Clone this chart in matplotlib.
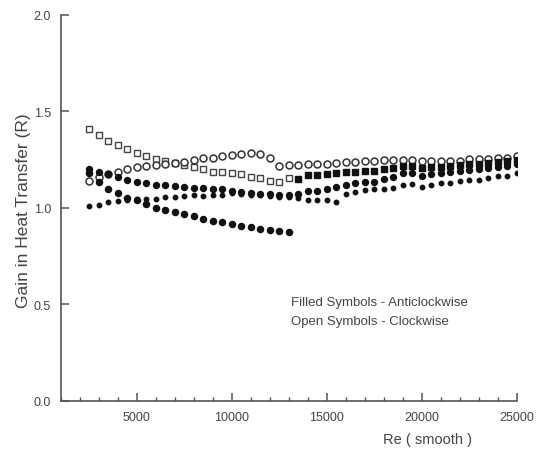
import matplotlib
matplotlib.use('Agg')
import matplotlib.pyplot as plt
from matplotlib.ticker import MultipleLocator, FormatStrFormatter
import numpy as np

# Re values (smooth), every 500
re_full = np.arange(2500, 25001, 500)
re_low = np.arange(2500, 13001, 500)
re_high = np.arange(13500, 25001, 500)

# open squares (clockwise)
open_sq = [1.406, 1.375, 1.347, 1.326, 1.306, 1.285, 1.267, 1.253, 1.245, 1.232, 1.222,
           1.211, 1.199, 1.188, 1.185, 1.181, 1.176, 1.159, 1.154, 1.141, 1.135, 1.154]
# open circles (clockwise)
open_circ = [1.141, 1.160, 1.175, 1.188, 1.199, 1.210, 1.219, 1.223, 1.228, 1.233,
             1.237, 1.250, 1.259, 1.259, 1.268, 1.276, 1.280, 1.285, 1.280, 1.259,
             1.219, 1.223, 1.223, 1.228, 1.228, 1.228, 1.233, 1.237, 1.237, 1.240,
             1.240, 1.249, 1.249, 1.249, 1.249, 1.240, 1.245, 1.245, 1.240, 1.245,
             1.254, 1.254, 1.254, 1.257, 1.257, 1.268]
# filled squares (anticlockwise)
filled_sq = [1.150, 1.171, 1.171, 1.176, 1.181, 1.185, 1.188, 1.193, 1.193, 1.202, 1.205, 1.216,
             1.216, 1.205, 1.211, 1.211, 1.216, 1.223, 1.226, 1.228, 1.233, 1.237, 1.240, 1.250]
# filled circles (anticlockwise)
filled_circ = [1.202, 1.185, 1.176, 1.159, 1.146, 1.133, 1.128, 1.119, 1.116, 1.112,
               1.107, 1.102, 1.100, 1.097, 1.095, 1.085, 1.081, 1.078, 1.073, 1.069,
               1.066, 1.064, 1.070, 1.085, 1.085, 1.098, 1.107, 1.119, 1.128, 1.133,
               1.135, 1.150, 1.159, 1.181, 1.181, 1.167, 1.176, 1.181, 1.185, 1.193,
               1.197, 1.202, 1.206, 1.211, 1.216, 1.228]
# small filled dots (anticlockwise)
filled_dot = [1.009, 1.016, 1.029, 1.033, 1.040, 1.045, 1.047, 1.047, 1.055, 1.058,
              1.060, 1.064, 1.062, 1.064, 1.066, 1.075, 1.072, 1.068, 1.064, 1.060,
              1.058, 1.055, 1.052, 1.038, 1.038, 1.038, 1.029, 1.073, 1.081, 1.090,
              1.095, 1.098, 1.104, 1.116, 1.124, 1.107, 1.119, 1.128, 1.128, 1.138,
              1.146, 1.146, 1.155, 1.167, 1.167, 1.181]
# big filled circles, falling (anticlockwise)
filled_big = [1.180, 1.133, 1.095, 1.076, 1.050, 1.040, 1.018, 0.998, 0.990, 0.977, 0.969,
              0.955, 0.943, 0.934, 0.926, 0.917, 0.908, 0.900, 0.891, 0.886, 0.882, 0.874]

grey = '#555555'
txt = '#444444'
font = 'Liberation Sans'

fig = plt.figure(figsize=(5.39, 4.64), dpi=100)
ax = fig.add_axes([0.113, 0.134, 0.846, 0.832])

ax.plot(re_low, open_sq, 's', ms=4.0, mfc='white', mec='#444444', mew=1.0, ls='none')
ax.plot(re_full, open_circ, 'o', ms=5.0, mfc='white', mec='#333333', mew=1.1, ls='none')
ax.plot(re_high, filled_sq, 's', ms=4.4, color='#111111', ls='none')
ax.plot(re_full, filled_circ, 'o', ms=4.3, color='#111111', ls='none')
ax.plot(re_full, filled_dot, 'o', ms=3.2, color='#111111', ls='none')
ax.plot(re_low, filled_big, 'o', ms=4.4, color='#111111', ls='none')

ax.set_xlim(1000, 25000)
ax.set_ylim(0, 2.0)
ax.xaxis.set_minor_locator(MultipleLocator(1000))
ax.yaxis.set_major_locator(MultipleLocator(0.5))
ax.yaxis.set_major_formatter(FormatStrFormatter('%.1f'))
ax.set_xticks([5000, 10000, 15000, 20000, 25000])

for s in ['top', 'right']:
    ax.spines[s].set_visible(False)
for s in ['left', 'bottom']:
    ax.spines[s].set_color(grey)
    ax.spines[s].set_linewidth(1.2)

ax.tick_params(which='major', direction='in', length=6, width=1.1, color=grey,
               labelcolor=txt, pad=7)
ax.tick_params(which='minor', direction='in', length=3, width=1.0, color=grey)
for lab in ax.get_xticklabels() + ax.get_yticklabels():
    lab.set_family(font)
    lab.set_fontsize(9)

ax.set_xlabel('Re ( smooth )', family=font, fontsize=10.5, color=txt)
ax.xaxis.label.set_va('center')
ax.xaxis.set_label_coords(0.803, -0.098)
ax.set_ylabel('Gain in Heat Transfer (R)', family=font, fontsize=12.5, color=txt)
ax.yaxis.label.set_va('center')
ax.yaxis.set_label_coords(-0.083, 0.495)

ax.text(13100, 0.513, 'Filled Symbols - Anticlockwise', family=font,
        fontsize=9.5, color=txt, va='center', ha='left')
ax.text(13100, 0.415, 'Open Symbols - Clockwise', family=font,
        fontsize=9.5, color=txt, va='center', ha='left')

fig.savefig('out.png', dpi=100)
